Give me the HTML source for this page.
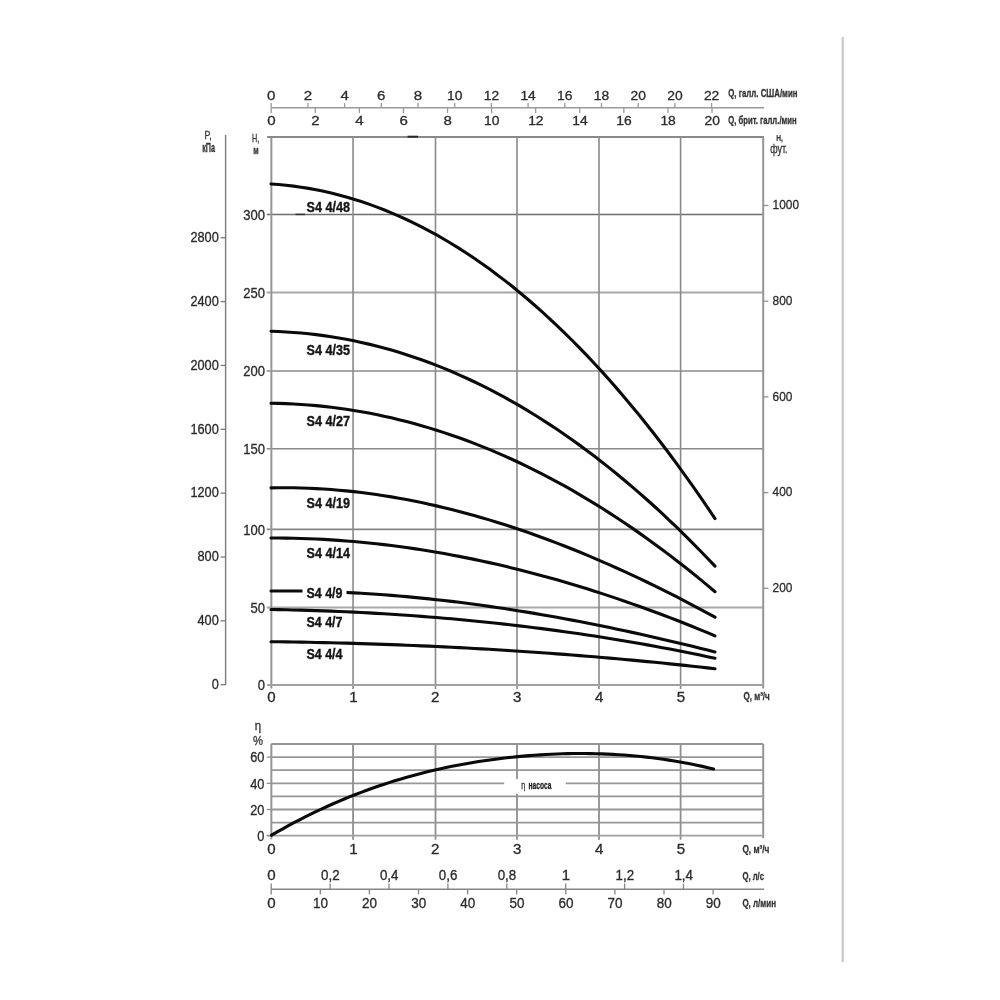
<!DOCTYPE html>
<html><head><meta charset="utf-8"><title>S4 4 pump curves</title>
<style>
html,body{margin:0;padding:0;background:#fff;width:1000px;height:1000px;overflow:hidden}
svg{display:block;will-change:transform}
text{font-family:"Liberation Sans", sans-serif}
</style></head>
<body>
<svg width="1000" height="1000" viewBox="0 0 1000 1000">
<rect x="0" y="0" width="1000" height="1000" fill="#fff"/>
<line x1="842.70" y1="37.00" x2="842.70" y2="962.00" stroke="#c8c8c8" stroke-width="2.2" />
<line x1="271.20" y1="107.80" x2="764.20" y2="107.80" stroke="#9a9a9a" stroke-width="1.6" />
<line x1="271.20" y1="103.00" x2="271.20" y2="107.80" stroke="#9a9a9a" stroke-width="1.3" />
<text x="271.20" y="99.70" font-size="13.41" text-anchor="middle" font-weight="normal" fill="#2a2a2a" stroke="#2a2a2a" stroke-width="0.3" textLength="8.40" lengthAdjust="spacingAndGlyphs">0</text>
<line x1="307.90" y1="103.00" x2="307.90" y2="107.80" stroke="#9a9a9a" stroke-width="1.3" />
<text x="307.90" y="99.70" font-size="13.41" text-anchor="middle" font-weight="normal" fill="#2a2a2a" stroke="#2a2a2a" stroke-width="0.3" textLength="8.40" lengthAdjust="spacingAndGlyphs">2</text>
<line x1="344.60" y1="103.00" x2="344.60" y2="107.80" stroke="#9a9a9a" stroke-width="1.3" />
<text x="344.60" y="99.70" font-size="13.41" text-anchor="middle" font-weight="normal" fill="#2a2a2a" stroke="#2a2a2a" stroke-width="0.3" textLength="8.40" lengthAdjust="spacingAndGlyphs">4</text>
<line x1="381.30" y1="103.00" x2="381.30" y2="107.80" stroke="#9a9a9a" stroke-width="1.3" />
<text x="381.30" y="99.70" font-size="13.41" text-anchor="middle" font-weight="normal" fill="#2a2a2a" stroke="#2a2a2a" stroke-width="0.3" textLength="8.40" lengthAdjust="spacingAndGlyphs">6</text>
<line x1="418.00" y1="103.00" x2="418.00" y2="107.80" stroke="#9a9a9a" stroke-width="1.3" />
<text x="418.00" y="99.70" font-size="13.41" text-anchor="middle" font-weight="normal" fill="#2a2a2a" stroke="#2a2a2a" stroke-width="0.3" textLength="8.40" lengthAdjust="spacingAndGlyphs">8</text>
<line x1="454.70" y1="103.00" x2="454.70" y2="107.80" stroke="#9a9a9a" stroke-width="1.3" />
<text x="454.70" y="99.70" font-size="13.41" text-anchor="middle" font-weight="normal" fill="#2a2a2a" stroke="#2a2a2a" stroke-width="0.3" textLength="15.40" lengthAdjust="spacingAndGlyphs">10</text>
<line x1="491.40" y1="103.00" x2="491.40" y2="107.80" stroke="#9a9a9a" stroke-width="1.3" />
<text x="491.40" y="99.70" font-size="13.41" text-anchor="middle" font-weight="normal" fill="#2a2a2a" stroke="#2a2a2a" stroke-width="0.3" textLength="15.40" lengthAdjust="spacingAndGlyphs">12</text>
<line x1="528.10" y1="103.00" x2="528.10" y2="107.80" stroke="#9a9a9a" stroke-width="1.3" />
<text x="528.10" y="99.70" font-size="13.41" text-anchor="middle" font-weight="normal" fill="#2a2a2a" stroke="#2a2a2a" stroke-width="0.3" textLength="15.40" lengthAdjust="spacingAndGlyphs">14</text>
<line x1="564.80" y1="103.00" x2="564.80" y2="107.80" stroke="#9a9a9a" stroke-width="1.3" />
<text x="564.80" y="99.70" font-size="13.41" text-anchor="middle" font-weight="normal" fill="#2a2a2a" stroke="#2a2a2a" stroke-width="0.3" textLength="15.40" lengthAdjust="spacingAndGlyphs">16</text>
<line x1="601.50" y1="103.00" x2="601.50" y2="107.80" stroke="#9a9a9a" stroke-width="1.3" />
<text x="601.50" y="99.70" font-size="13.41" text-anchor="middle" font-weight="normal" fill="#2a2a2a" stroke="#2a2a2a" stroke-width="0.3" textLength="15.40" lengthAdjust="spacingAndGlyphs">18</text>
<line x1="638.20" y1="103.00" x2="638.20" y2="107.80" stroke="#9a9a9a" stroke-width="1.3" />
<text x="638.20" y="99.70" font-size="13.41" text-anchor="middle" font-weight="normal" fill="#2a2a2a" stroke="#2a2a2a" stroke-width="0.3" textLength="15.40" lengthAdjust="spacingAndGlyphs">20</text>
<line x1="674.90" y1="103.00" x2="674.90" y2="107.80" stroke="#9a9a9a" stroke-width="1.3" />
<text x="674.90" y="99.70" font-size="13.41" text-anchor="middle" font-weight="normal" fill="#2a2a2a" stroke="#2a2a2a" stroke-width="0.3" textLength="15.40" lengthAdjust="spacingAndGlyphs">20</text>
<line x1="711.60" y1="103.00" x2="711.60" y2="107.80" stroke="#9a9a9a" stroke-width="1.3" />
<text x="711.60" y="99.70" font-size="13.41" text-anchor="middle" font-weight="normal" fill="#2a2a2a" stroke="#2a2a2a" stroke-width="0.3" textLength="15.40" lengthAdjust="spacingAndGlyphs">22</text>
<line x1="271.20" y1="107.80" x2="271.20" y2="113.00" stroke="#9a9a9a" stroke-width="1.3" />
<text x="271.40" y="124.90" font-size="13.69" text-anchor="middle" font-weight="normal" fill="#2a2a2a" stroke="#2a2a2a" stroke-width="0.3" textLength="8.40" lengthAdjust="spacingAndGlyphs">0</text>
<line x1="315.28" y1="107.80" x2="315.28" y2="113.00" stroke="#9a9a9a" stroke-width="1.3" />
<text x="315.48" y="124.90" font-size="13.69" text-anchor="middle" font-weight="normal" fill="#2a2a2a" stroke="#2a2a2a" stroke-width="0.3" textLength="8.40" lengthAdjust="spacingAndGlyphs">2</text>
<line x1="359.36" y1="107.80" x2="359.36" y2="113.00" stroke="#9a9a9a" stroke-width="1.3" />
<text x="359.56" y="124.90" font-size="13.69" text-anchor="middle" font-weight="normal" fill="#2a2a2a" stroke="#2a2a2a" stroke-width="0.3" textLength="8.40" lengthAdjust="spacingAndGlyphs">4</text>
<line x1="403.44" y1="107.80" x2="403.44" y2="113.00" stroke="#9a9a9a" stroke-width="1.3" />
<text x="403.64" y="124.90" font-size="13.69" text-anchor="middle" font-weight="normal" fill="#2a2a2a" stroke="#2a2a2a" stroke-width="0.3" textLength="8.40" lengthAdjust="spacingAndGlyphs">6</text>
<line x1="447.52" y1="107.80" x2="447.52" y2="113.00" stroke="#9a9a9a" stroke-width="1.3" />
<text x="447.72" y="124.90" font-size="13.69" text-anchor="middle" font-weight="normal" fill="#2a2a2a" stroke="#2a2a2a" stroke-width="0.3" textLength="8.40" lengthAdjust="spacingAndGlyphs">8</text>
<line x1="491.60" y1="107.80" x2="491.60" y2="113.00" stroke="#9a9a9a" stroke-width="1.3" />
<text x="491.80" y="124.90" font-size="13.69" text-anchor="middle" font-weight="normal" fill="#2a2a2a" stroke="#2a2a2a" stroke-width="0.3" textLength="15.40" lengthAdjust="spacingAndGlyphs">10</text>
<line x1="535.68" y1="107.80" x2="535.68" y2="113.00" stroke="#9a9a9a" stroke-width="1.3" />
<text x="535.88" y="124.90" font-size="13.69" text-anchor="middle" font-weight="normal" fill="#2a2a2a" stroke="#2a2a2a" stroke-width="0.3" textLength="15.40" lengthAdjust="spacingAndGlyphs">12</text>
<line x1="579.76" y1="107.80" x2="579.76" y2="113.00" stroke="#9a9a9a" stroke-width="1.3" />
<text x="579.96" y="124.90" font-size="13.69" text-anchor="middle" font-weight="normal" fill="#2a2a2a" stroke="#2a2a2a" stroke-width="0.3" textLength="15.40" lengthAdjust="spacingAndGlyphs">14</text>
<line x1="623.84" y1="107.80" x2="623.84" y2="113.00" stroke="#9a9a9a" stroke-width="1.3" />
<text x="624.04" y="124.90" font-size="13.69" text-anchor="middle" font-weight="normal" fill="#2a2a2a" stroke="#2a2a2a" stroke-width="0.3" textLength="15.40" lengthAdjust="spacingAndGlyphs">16</text>
<line x1="667.92" y1="107.80" x2="667.92" y2="113.00" stroke="#9a9a9a" stroke-width="1.3" />
<text x="668.12" y="124.90" font-size="13.69" text-anchor="middle" font-weight="normal" fill="#2a2a2a" stroke="#2a2a2a" stroke-width="0.3" textLength="15.40" lengthAdjust="spacingAndGlyphs">18</text>
<line x1="712.00" y1="107.80" x2="712.00" y2="113.00" stroke="#9a9a9a" stroke-width="1.3" />
<text x="712.20" y="124.90" font-size="13.69" text-anchor="middle" font-weight="normal" fill="#2a2a2a" stroke="#2a2a2a" stroke-width="0.3" textLength="15.40" lengthAdjust="spacingAndGlyphs">20</text>
<text x="728.20" y="97.10" font-size="10.06" text-anchor="start" font-weight="bold" fill="#333" stroke="#333" stroke-width="0.3" textLength="69.30" lengthAdjust="spacingAndGlyphs">Q, галл. США/мин</text>
<text x="728.20" y="123.60" font-size="10.06" text-anchor="start" font-weight="bold" fill="#333" stroke="#333" stroke-width="0.3" textLength="68.40" lengthAdjust="spacingAndGlyphs">Q, брит. галл./мин</text>
<line x1="266.70" y1="607.60" x2="763.20" y2="607.60" stroke="#a8a8a8" stroke-width="2.0" />
<line x1="266.70" y1="529.40" x2="763.20" y2="529.40" stroke="#868686" stroke-width="1.6" />
<line x1="266.70" y1="448.80" x2="763.20" y2="448.80" stroke="#8a8a8a" stroke-width="1.6" />
<line x1="266.70" y1="371.00" x2="763.20" y2="371.00" stroke="#a8a8a8" stroke-width="2.0" />
<line x1="266.70" y1="292.40" x2="763.20" y2="292.40" stroke="#a8a8a8" stroke-width="2.0" />
<line x1="266.70" y1="214.50" x2="763.20" y2="214.50" stroke="#6e6e6e" stroke-width="1.4" />
<line x1="353.05" y1="136.70" x2="353.05" y2="689.00" stroke="#8a8a8a" stroke-width="1.6" />
<line x1="435.50" y1="136.70" x2="435.50" y2="689.00" stroke="#8a8a8a" stroke-width="1.6" />
<line x1="517.00" y1="136.70" x2="517.00" y2="689.00" stroke="#8a8a8a" stroke-width="1.6" />
<line x1="599.00" y1="136.70" x2="599.00" y2="689.00" stroke="#8a8a8a" stroke-width="1.6" />
<line x1="680.60" y1="136.70" x2="680.60" y2="689.00" stroke="#8a8a8a" stroke-width="1.6" />
<line x1="271.35" y1="136.70" x2="271.35" y2="688.60" stroke="#959595" stroke-width="2.0" />
<line x1="763.20" y1="136.70" x2="763.20" y2="688.60" stroke="#959595" stroke-width="2.0" />
<line x1="267.20" y1="136.90" x2="764.00" y2="136.90" stroke="#8a8a8a" stroke-width="2.0" />
<line x1="267.20" y1="685.00" x2="763.20" y2="685.00" stroke="#a0a0a0" stroke-width="1.8" />
<line x1="407.50" y1="136.70" x2="418.00" y2="136.70" stroke="#2a2a2a" stroke-width="2.0" />
<text x="264.90" y="690.20" font-size="13.97" text-anchor="end" font-weight="normal" fill="#2a2a2a" stroke="#2a2a2a" stroke-width="0.3" textLength="7.25" lengthAdjust="spacingAndGlyphs">0</text>
<text x="264.90" y="612.80" font-size="13.97" text-anchor="end" font-weight="normal" fill="#2a2a2a" stroke="#2a2a2a" stroke-width="0.3" textLength="14.50" lengthAdjust="spacingAndGlyphs">50</text>
<text x="264.90" y="534.60" font-size="13.97" text-anchor="end" font-weight="normal" fill="#2a2a2a" stroke="#2a2a2a" stroke-width="0.3" textLength="21.75" lengthAdjust="spacingAndGlyphs">100</text>
<text x="264.90" y="454.00" font-size="13.97" text-anchor="end" font-weight="normal" fill="#2a2a2a" stroke="#2a2a2a" stroke-width="0.3" textLength="21.75" lengthAdjust="spacingAndGlyphs">150</text>
<text x="264.90" y="376.20" font-size="13.97" text-anchor="end" font-weight="normal" fill="#2a2a2a" stroke="#2a2a2a" stroke-width="0.3" textLength="21.75" lengthAdjust="spacingAndGlyphs">200</text>
<text x="264.90" y="297.60" font-size="13.97" text-anchor="end" font-weight="normal" fill="#2a2a2a" stroke="#2a2a2a" stroke-width="0.3" textLength="21.75" lengthAdjust="spacingAndGlyphs">250</text>
<text x="264.90" y="219.70" font-size="13.97" text-anchor="end" font-weight="normal" fill="#2a2a2a" stroke="#2a2a2a" stroke-width="0.3" textLength="21.75" lengthAdjust="spacingAndGlyphs">300</text>
<line x1="225.60" y1="135.00" x2="225.60" y2="684.90" stroke="#7a7a7a" stroke-width="1.4" />
<line x1="220.60" y1="684.70" x2="225.60" y2="684.70" stroke="#7a7a7a" stroke-width="1.3" />
<text x="218.80" y="689.00" font-size="13.97" text-anchor="end" font-weight="normal" fill="#2a2a2a" stroke="#2a2a2a" stroke-width="0.3" textLength="7.10" lengthAdjust="spacingAndGlyphs">0</text>
<line x1="220.60" y1="620.85" x2="225.60" y2="620.85" stroke="#7a7a7a" stroke-width="1.3" />
<text x="218.80" y="625.15" font-size="13.97" text-anchor="end" font-weight="normal" fill="#2a2a2a" stroke="#2a2a2a" stroke-width="0.3" textLength="21.30" lengthAdjust="spacingAndGlyphs">400</text>
<line x1="220.60" y1="557.00" x2="225.60" y2="557.00" stroke="#7a7a7a" stroke-width="1.3" />
<text x="218.80" y="561.30" font-size="13.97" text-anchor="end" font-weight="normal" fill="#2a2a2a" stroke="#2a2a2a" stroke-width="0.3" textLength="21.30" lengthAdjust="spacingAndGlyphs">800</text>
<line x1="220.60" y1="493.15" x2="225.60" y2="493.15" stroke="#7a7a7a" stroke-width="1.3" />
<text x="218.80" y="497.45" font-size="13.97" text-anchor="end" font-weight="normal" fill="#2a2a2a" stroke="#2a2a2a" stroke-width="0.3" textLength="28.40" lengthAdjust="spacingAndGlyphs">1200</text>
<line x1="220.60" y1="429.30" x2="225.60" y2="429.30" stroke="#7a7a7a" stroke-width="1.3" />
<text x="218.80" y="433.60" font-size="13.97" text-anchor="end" font-weight="normal" fill="#2a2a2a" stroke="#2a2a2a" stroke-width="0.3" textLength="28.40" lengthAdjust="spacingAndGlyphs">1600</text>
<line x1="220.60" y1="365.45" x2="225.60" y2="365.45" stroke="#7a7a7a" stroke-width="1.3" />
<text x="218.80" y="369.75" font-size="13.97" text-anchor="end" font-weight="normal" fill="#2a2a2a" stroke="#2a2a2a" stroke-width="0.3" textLength="28.40" lengthAdjust="spacingAndGlyphs">2000</text>
<line x1="220.60" y1="301.60" x2="225.60" y2="301.60" stroke="#7a7a7a" stroke-width="1.3" />
<text x="218.80" y="305.90" font-size="13.97" text-anchor="end" font-weight="normal" fill="#2a2a2a" stroke="#2a2a2a" stroke-width="0.3" textLength="28.40" lengthAdjust="spacingAndGlyphs">2400</text>
<line x1="220.60" y1="237.75" x2="225.60" y2="237.75" stroke="#7a7a7a" stroke-width="1.3" />
<text x="218.80" y="242.05" font-size="13.97" text-anchor="end" font-weight="normal" fill="#2a2a2a" stroke="#2a2a2a" stroke-width="0.3" textLength="28.40" lengthAdjust="spacingAndGlyphs">2800</text>
<line x1="763.20" y1="588.30" x2="768.40" y2="588.30" stroke="#8f8f8f" stroke-width="1.3" />
<text x="772.60" y="592.00" font-size="13.69" text-anchor="start" font-weight="normal" fill="#2a2a2a" stroke="#2a2a2a" stroke-width="0.3" textLength="19.80" lengthAdjust="spacingAndGlyphs">200</text>
<line x1="763.20" y1="492.60" x2="768.40" y2="492.60" stroke="#8f8f8f" stroke-width="1.3" />
<text x="772.60" y="496.30" font-size="13.69" text-anchor="start" font-weight="normal" fill="#2a2a2a" stroke="#2a2a2a" stroke-width="0.3" textLength="19.80" lengthAdjust="spacingAndGlyphs">400</text>
<line x1="763.20" y1="396.90" x2="768.40" y2="396.90" stroke="#8f8f8f" stroke-width="1.3" />
<text x="772.60" y="400.60" font-size="13.69" text-anchor="start" font-weight="normal" fill="#2a2a2a" stroke="#2a2a2a" stroke-width="0.3" textLength="19.80" lengthAdjust="spacingAndGlyphs">600</text>
<line x1="763.20" y1="301.20" x2="768.40" y2="301.20" stroke="#8f8f8f" stroke-width="1.3" />
<text x="772.60" y="304.90" font-size="13.69" text-anchor="start" font-weight="normal" fill="#2a2a2a" stroke="#2a2a2a" stroke-width="0.3" textLength="19.80" lengthAdjust="spacingAndGlyphs">800</text>
<line x1="763.20" y1="205.50" x2="768.40" y2="205.50" stroke="#8f8f8f" stroke-width="1.3" />
<text x="772.60" y="209.20" font-size="13.69" text-anchor="start" font-weight="normal" fill="#2a2a2a" stroke="#2a2a2a" stroke-width="0.3" textLength="26.40" lengthAdjust="spacingAndGlyphs">1000</text>
<text x="271.50" y="701.60" font-size="13.97" text-anchor="middle" font-weight="normal" fill="#2a2a2a" stroke="#2a2a2a" stroke-width="0.3" textLength="8.40" lengthAdjust="spacingAndGlyphs">0</text>
<text x="353.40" y="701.60" font-size="13.97" text-anchor="middle" font-weight="normal" fill="#2a2a2a" stroke="#2a2a2a" stroke-width="0.3" textLength="8.40" lengthAdjust="spacingAndGlyphs">1</text>
<text x="435.30" y="701.60" font-size="13.97" text-anchor="middle" font-weight="normal" fill="#2a2a2a" stroke="#2a2a2a" stroke-width="0.3" textLength="8.40" lengthAdjust="spacingAndGlyphs">2</text>
<text x="517.20" y="701.60" font-size="13.97" text-anchor="middle" font-weight="normal" fill="#2a2a2a" stroke="#2a2a2a" stroke-width="0.3" textLength="8.40" lengthAdjust="spacingAndGlyphs">3</text>
<text x="599.10" y="701.60" font-size="13.97" text-anchor="middle" font-weight="normal" fill="#2a2a2a" stroke="#2a2a2a" stroke-width="0.3" textLength="8.40" lengthAdjust="spacingAndGlyphs">4</text>
<text x="681.00" y="701.60" font-size="13.97" text-anchor="middle" font-weight="normal" fill="#2a2a2a" stroke="#2a2a2a" stroke-width="0.3" textLength="8.40" lengthAdjust="spacingAndGlyphs">5</text>
<text x="743.40" y="699.60" font-size="11.45" text-anchor="start" font-weight="bold" fill="#333" stroke="#333" stroke-width="0.3" textLength="26.40" lengthAdjust="spacingAndGlyphs">Q, м³/ч</text>
<text x="204.60" y="139.20" font-size="10.89" text-anchor="start" font-weight="normal" fill="#333" stroke="#333" stroke-width="0.3" textLength="7.20" lengthAdjust="spacingAndGlyphs">P,</text>
<text x="202.20" y="152.40" font-size="12.45" text-anchor="start" font-weight="bold" fill="#333" stroke="#333" stroke-width="0.3" textLength="12.80" lengthAdjust="spacingAndGlyphs">кПа</text>
<text x="252.00" y="141.60" font-size="10.06" text-anchor="start" font-weight="normal" fill="#333" stroke="#333" stroke-width="0.3" textLength="7.20" lengthAdjust="spacingAndGlyphs">H,</text>
<text x="253.20" y="153.60" font-size="11.32" text-anchor="start" font-weight="bold" fill="#333" stroke="#333" stroke-width="0.3" textLength="5.40" lengthAdjust="spacingAndGlyphs">м</text>
<text x="776.20" y="141.00" font-size="9.22" text-anchor="start" font-weight="bold" fill="#333" stroke="#333" stroke-width="0.2" textLength="6.60" lengthAdjust="spacingAndGlyphs">H,</text>
<text x="770.20" y="153.45" font-size="12.50" text-anchor="start" font-weight="normal" fill="#333" stroke="#333" stroke-width="0.3" textLength="17.40" lengthAdjust="spacingAndGlyphs">фут.</text>
<path d="M271.00,183.96 L278.53,184.52 L286.05,185.25 L293.58,186.13 L301.10,187.18 L308.63,188.40 L316.15,189.78 L323.68,191.32 L331.20,193.04 L338.73,194.92 L346.25,196.97 L353.78,199.18 L361.31,201.57 L368.83,204.13 L376.36,206.86 L383.88,209.76 L391.41,212.83 L398.93,216.08 L406.46,219.50 L413.98,223.10 L421.51,226.87 L429.03,230.81 L436.56,234.94 L444.08,239.24 L451.61,243.72 L459.14,248.38 L466.66,253.22 L474.19,258.24 L481.71,263.44 L489.24,268.82 L496.76,274.39 L504.29,280.14 L511.81,286.07 L519.34,292.19 L526.86,298.50 L534.39,304.99 L541.92,311.66 L549.44,318.53 L556.97,325.58 L564.49,332.83 L572.02,340.26 L579.54,347.88 L587.07,355.70 L594.59,363.71 L602.12,371.91 L609.64,380.30 L617.17,388.89 L624.69,397.67 L632.22,406.65 L639.75,415.83 L647.27,425.20 L654.80,434.77 L662.32,444.54 L669.85,454.51 L677.37,464.67 L684.90,475.04 L692.42,485.61 L699.95,496.39 L707.47,507.36 L715.00,518.54" fill="none" stroke="#0a0a0a" stroke-width="3.1" stroke-linecap="round" stroke-linejoin="round"/>
<path d="M271.00,331.32 L278.53,331.57 L286.05,331.94 L293.58,332.43 L301.10,333.04 L308.63,333.78 L316.15,334.64 L323.68,335.62 L331.20,336.73 L338.73,337.96 L346.25,339.31 L353.78,340.79 L361.31,342.40 L368.83,344.13 L376.36,345.98 L383.88,347.96 L391.41,350.07 L398.93,352.31 L406.46,354.67 L413.98,357.16 L421.51,359.78 L429.03,362.53 L436.56,365.41 L444.08,368.42 L451.61,371.55 L459.14,374.82 L466.66,378.22 L474.19,381.75 L481.71,385.41 L489.24,389.20 L496.76,393.13 L504.29,397.18 L511.81,401.37 L519.34,405.70 L526.86,410.15 L534.39,414.74 L541.92,419.47 L549.44,424.33 L556.97,429.33 L564.49,434.46 L572.02,439.72 L579.54,445.13 L587.07,450.67 L594.59,456.35 L602.12,462.16 L609.64,468.12 L617.17,474.21 L624.69,480.44 L632.22,486.81 L639.75,493.32 L647.27,499.97 L654.80,506.76 L662.32,513.69 L669.85,520.76 L677.37,527.97 L684.90,535.33 L692.42,542.83 L699.95,550.47 L707.47,558.25 L715.00,566.18" fill="none" stroke="#0a0a0a" stroke-width="3.1" stroke-linecap="round" stroke-linejoin="round"/>
<path d="M271.00,403.28 L278.53,403.42 L286.05,403.66 L293.58,404.00 L301.10,404.44 L308.63,404.99 L316.15,405.64 L323.68,406.39 L331.20,407.25 L338.73,408.21 L346.25,409.28 L353.78,410.45 L361.31,411.72 L368.83,413.10 L376.36,414.58 L383.88,416.16 L391.41,417.85 L398.93,419.65 L406.46,421.55 L413.98,423.55 L421.51,425.66 L429.03,427.88 L436.56,430.20 L444.08,432.63 L451.61,435.16 L459.14,437.80 L466.66,440.55 L474.19,443.40 L481.71,446.36 L489.24,449.42 L496.76,452.60 L504.29,455.88 L511.81,459.26 L519.34,462.75 L526.86,466.36 L534.39,470.06 L541.92,473.88 L549.44,477.80 L556.97,481.84 L564.49,485.98 L572.02,490.22 L579.54,494.58 L587.07,499.05 L594.59,503.62 L602.12,508.30 L609.64,513.10 L617.17,518.00 L624.69,523.01 L632.22,528.13 L639.75,533.36 L647.27,538.70 L654.80,544.15 L662.32,549.71 L669.85,555.38 L677.37,561.16 L684.90,567.05 L692.42,573.06 L699.95,579.17 L707.47,585.39 L715.00,591.73" fill="none" stroke="#0a0a0a" stroke-width="3.1" stroke-linecap="round" stroke-linejoin="round"/>
<path d="M271.00,487.84 L278.53,487.73 L286.05,487.72 L293.58,487.80 L301.10,487.97 L308.63,488.23 L316.15,488.58 L323.68,489.02 L331.20,489.55 L338.73,490.17 L346.25,490.87 L353.78,491.66 L361.31,492.54 L368.83,493.50 L376.36,494.55 L383.88,495.68 L391.41,496.90 L398.93,498.19 L406.46,499.57 L413.98,501.03 L421.51,502.56 L429.03,504.18 L436.56,505.88 L444.08,507.65 L451.61,509.50 L459.14,511.43 L466.66,513.43 L474.19,515.51 L481.71,517.66 L489.24,519.88 L496.76,522.18 L504.29,524.55 L511.81,526.99 L519.34,529.50 L526.86,532.08 L534.39,534.73 L541.92,537.45 L549.44,540.24 L556.97,543.09 L564.49,546.01 L572.02,548.99 L579.54,552.04 L587.07,555.16 L594.59,558.33 L602.12,561.57 L609.64,564.87 L617.17,568.23 L624.69,571.65 L632.22,575.14 L639.75,578.68 L647.27,582.27 L654.80,585.93 L662.32,589.64 L669.85,593.41 L677.37,597.23 L684.90,601.11 L692.42,605.04 L699.95,609.03 L707.47,613.06 L715.00,617.15" fill="none" stroke="#0a0a0a" stroke-width="3.1" stroke-linecap="round" stroke-linejoin="round"/>
<path d="M271.00,538.03 L278.53,538.05 L286.05,538.12 L293.58,538.26 L301.10,538.46 L308.63,538.72 L316.15,539.04 L323.68,539.42 L331.20,539.86 L338.73,540.37 L346.25,540.93 L353.78,541.55 L361.31,542.24 L368.83,542.98 L376.36,543.78 L383.88,544.64 L391.41,545.55 L398.93,546.53 L406.46,547.56 L413.98,548.65 L421.51,549.80 L429.03,551.00 L436.56,552.26 L444.08,553.58 L451.61,554.95 L459.14,556.37 L466.66,557.86 L474.19,559.39 L481.71,560.99 L489.24,562.63 L496.76,564.33 L504.29,566.09 L511.81,567.89 L519.34,569.75 L526.86,571.67 L534.39,573.63 L541.92,575.65 L549.44,577.72 L556.97,579.84 L564.49,582.02 L572.02,584.24 L579.54,586.52 L587.07,588.84 L594.59,591.22 L602.12,593.64 L609.64,596.12 L617.17,598.64 L624.69,601.21 L632.22,603.84 L639.75,606.51 L647.27,609.23 L654.80,611.99 L662.32,614.81 L669.85,617.67 L677.37,620.57 L684.90,623.53 L692.42,626.53 L699.95,629.58 L707.47,632.67 L715.00,635.81" fill="none" stroke="#0a0a0a" stroke-width="3.1" stroke-linecap="round" stroke-linejoin="round"/>
<path d="M271.00,590.98 L278.53,590.93 L286.05,590.93 L293.58,590.97 L301.10,591.05 L308.63,591.18 L316.15,591.35 L323.68,591.56 L331.20,591.82 L338.73,592.12 L346.25,592.46 L353.78,592.85 L361.31,593.27 L368.83,593.73 L376.36,594.24 L383.88,594.78 L391.41,595.37 L398.93,595.99 L406.46,596.65 L413.98,597.35 L421.51,598.09 L429.03,598.86 L436.56,599.67 L444.08,600.52 L451.61,601.40 L459.14,602.32 L466.66,603.28 L474.19,604.27 L481.71,605.29 L489.24,606.35 L496.76,607.44 L504.29,608.57 L511.81,609.72 L519.34,610.91 L526.86,612.14 L534.39,613.39 L541.92,614.67 L549.44,615.99 L556.97,617.34 L564.49,618.71 L572.02,620.12 L579.54,621.55 L587.07,623.02 L594.59,624.51 L602.12,626.03 L609.64,627.57 L617.17,629.15 L624.69,630.75 L632.22,632.38 L639.75,634.03 L647.27,635.71 L654.80,637.41 L662.32,639.14 L669.85,640.89 L677.37,642.67 L684.90,644.47 L692.42,646.29 L699.95,648.14 L707.47,650.00 L715.00,651.89" fill="none" stroke="#0a0a0a" stroke-width="3.1" stroke-linecap="round" stroke-linejoin="round"/>
<path d="M271.00,609.48 L278.53,609.61 L286.05,609.77 L293.58,609.95 L301.10,610.15 L308.63,610.37 L316.15,610.61 L323.68,610.88 L331.20,611.16 L338.73,611.47 L346.25,611.80 L353.78,612.15 L361.31,612.53 L368.83,612.92 L376.36,613.34 L383.88,613.78 L391.41,614.25 L398.93,614.74 L406.46,615.25 L413.98,615.79 L421.51,616.35 L429.03,616.93 L436.56,617.53 L444.08,618.17 L451.61,618.82 L459.14,619.50 L466.66,620.20 L474.19,620.93 L481.71,621.69 L489.24,622.47 L496.76,623.27 L504.29,624.10 L511.81,624.96 L519.34,625.84 L526.86,626.74 L534.39,627.68 L541.92,628.63 L549.44,629.62 L556.97,630.63 L564.49,631.67 L572.02,632.73 L579.54,633.83 L587.07,634.95 L594.59,636.09 L602.12,637.27 L609.64,638.47 L617.17,639.70 L624.69,640.95 L632.22,642.24 L639.75,643.55 L647.27,644.89 L654.80,646.26 L662.32,647.66 L669.85,649.09 L677.37,650.54 L684.90,652.03 L692.42,653.55 L699.95,655.09 L707.47,656.66 L715.00,658.27" fill="none" stroke="#0a0a0a" stroke-width="3.1" stroke-linecap="round" stroke-linejoin="round"/>
<path d="M271.00,641.71 L278.53,641.80 L286.05,641.91 L293.58,642.02 L301.10,642.15 L308.63,642.29 L316.15,642.44 L323.68,642.61 L331.20,642.78 L338.73,642.97 L346.25,643.17 L353.78,643.38 L361.31,643.61 L368.83,643.84 L376.36,644.09 L383.88,644.35 L391.41,644.62 L398.93,644.91 L406.46,645.20 L413.98,645.51 L421.51,645.84 L429.03,646.17 L436.56,646.52 L444.08,646.88 L451.61,647.25 L459.14,647.64 L466.66,648.03 L474.19,648.45 L481.71,648.87 L489.24,649.31 L496.76,649.76 L504.29,650.22 L511.81,650.70 L519.34,651.19 L526.86,651.69 L534.39,652.21 L541.92,652.74 L549.44,653.28 L556.97,653.84 L564.49,654.41 L572.02,654.99 L579.54,655.59 L587.07,656.20 L594.59,656.82 L602.12,657.46 L609.64,658.11 L617.17,658.78 L624.69,659.46 L632.22,660.16 L639.75,660.86 L647.27,661.59 L654.80,662.32 L662.32,663.07 L669.85,663.84 L677.37,664.62 L684.90,665.41 L692.42,666.22 L699.95,667.05 L707.47,667.88 L715.00,668.74" fill="none" stroke="#0a0a0a" stroke-width="3.1" stroke-linecap="round" stroke-linejoin="round"/>
<rect x="302.5" y="586" width="44" height="13" fill="#fff"/>
<line x1="295.50" y1="214.40" x2="305.00" y2="214.40" stroke="#333" stroke-width="1.5" />
<text x="306.50" y="212.40" font-size="14.25" text-anchor="start" font-weight="bold" fill="#141414" stroke="#141414" stroke-width="0.35" textLength="43.50" lengthAdjust="spacingAndGlyphs">S4 4/48</text>
<text x="306.50" y="355.40" font-size="14.25" text-anchor="start" font-weight="bold" fill="#141414" stroke="#141414" stroke-width="0.35" textLength="43.50" lengthAdjust="spacingAndGlyphs">S4 4/35</text>
<text x="306.50" y="425.90" font-size="14.25" text-anchor="start" font-weight="bold" fill="#141414" stroke="#141414" stroke-width="0.35" textLength="43.50" lengthAdjust="spacingAndGlyphs">S4 4/27</text>
<text x="306.50" y="508.10" font-size="14.25" text-anchor="start" font-weight="bold" fill="#141414" stroke="#141414" stroke-width="0.35" textLength="43.50" lengthAdjust="spacingAndGlyphs">S4 4/19</text>
<text x="306.50" y="557.80" font-size="14.25" text-anchor="start" font-weight="bold" fill="#141414" stroke="#141414" stroke-width="0.35" textLength="43.50" lengthAdjust="spacingAndGlyphs">S4 4/14</text>
<text x="306.50" y="597.80" font-size="14.25" text-anchor="start" font-weight="bold" fill="#141414" stroke="#141414" stroke-width="0.35" textLength="36.00" lengthAdjust="spacingAndGlyphs">S4 4/9</text>
<text x="306.50" y="627.10" font-size="14.25" text-anchor="start" font-weight="bold" fill="#141414" stroke="#141414" stroke-width="0.35" textLength="36.00" lengthAdjust="spacingAndGlyphs">S4 4/7</text>
<text x="306.50" y="658.70" font-size="14.25" text-anchor="start" font-weight="bold" fill="#141414" stroke="#141414" stroke-width="0.35" textLength="36.00" lengthAdjust="spacingAndGlyphs">S4 4/4</text>
<line x1="271.20" y1="822.60" x2="763.20" y2="822.60" stroke="#979797" stroke-width="1.8" />
<line x1="271.20" y1="809.50" x2="763.20" y2="809.50" stroke="#979797" stroke-width="1.8" />
<line x1="271.20" y1="796.40" x2="763.20" y2="796.40" stroke="#979797" stroke-width="1.8" />
<line x1="271.20" y1="783.30" x2="763.20" y2="783.30" stroke="#979797" stroke-width="1.8" />
<line x1="271.20" y1="770.20" x2="763.20" y2="770.20" stroke="#979797" stroke-width="1.8" />
<line x1="271.20" y1="757.10" x2="763.20" y2="757.10" stroke="#979797" stroke-width="1.8" />
<line x1="353.05" y1="744.00" x2="353.05" y2="839.70" stroke="#8f8f8f" stroke-width="1.8" />
<line x1="435.50" y1="744.00" x2="435.50" y2="839.70" stroke="#8f8f8f" stroke-width="1.8" />
<line x1="517.00" y1="744.00" x2="517.00" y2="839.70" stroke="#8f8f8f" stroke-width="1.8" />
<line x1="599.00" y1="744.00" x2="599.00" y2="839.70" stroke="#8f8f8f" stroke-width="1.8" />
<line x1="680.60" y1="744.00" x2="680.60" y2="839.70" stroke="#8f8f8f" stroke-width="1.8" />
<line x1="271.35" y1="744.00" x2="271.35" y2="839.30" stroke="#959595" stroke-width="2.0" />
<line x1="763.20" y1="744.00" x2="763.20" y2="838.20" stroke="#959595" stroke-width="2.0" />
<line x1="271.20" y1="744.00" x2="763.20" y2="744.00" stroke="#959595" stroke-width="2.0" />
<line x1="266.70" y1="835.70" x2="763.20" y2="835.70" stroke="#a0a0a0" stroke-width="1.8" />
<line x1="266.70" y1="835.70" x2="271.20" y2="835.70" stroke="#8f8f8f" stroke-width="1.3" />
<text x="264.40" y="841.00" font-size="13.97" text-anchor="end" font-weight="normal" fill="#2a2a2a" stroke="#2a2a2a" stroke-width="0.3" textLength="7.10" lengthAdjust="spacingAndGlyphs">0</text>
<line x1="266.70" y1="809.50" x2="271.20" y2="809.50" stroke="#8f8f8f" stroke-width="1.3" />
<text x="264.40" y="814.80" font-size="13.97" text-anchor="end" font-weight="normal" fill="#2a2a2a" stroke="#2a2a2a" stroke-width="0.3" textLength="14.20" lengthAdjust="spacingAndGlyphs">20</text>
<line x1="266.70" y1="783.30" x2="271.20" y2="783.30" stroke="#8f8f8f" stroke-width="1.3" />
<text x="264.40" y="788.60" font-size="13.97" text-anchor="end" font-weight="normal" fill="#2a2a2a" stroke="#2a2a2a" stroke-width="0.3" textLength="14.20" lengthAdjust="spacingAndGlyphs">40</text>
<line x1="266.70" y1="757.10" x2="271.20" y2="757.10" stroke="#8f8f8f" stroke-width="1.3" />
<text x="264.40" y="762.40" font-size="13.97" text-anchor="end" font-weight="normal" fill="#2a2a2a" stroke="#2a2a2a" stroke-width="0.3" textLength="14.20" lengthAdjust="spacingAndGlyphs">60</text>
<rect x="504.2" y="779" width="61.6" height="14.8" fill="#fff"/>
<text x="521.20" y="789.00" font-size="10.57" text-anchor="start" font-weight="normal" fill="#333" stroke="#333" stroke-width="0.3" textLength="4.00" lengthAdjust="spacingAndGlyphs">η</text>
<text x="528.60" y="789.00" font-size="10.57" text-anchor="start" font-weight="bold" fill="#222" stroke="#222" stroke-width="0.3" textLength="22.80" lengthAdjust="spacingAndGlyphs">насоса</text>
<text x="254.80" y="730.40" font-size="12.00" text-anchor="start" font-weight="normal" fill="#333" stroke="#333" stroke-width="0.3" textLength="6.40" lengthAdjust="spacingAndGlyphs">η</text>
<text x="253.00" y="745.00" font-size="12.57" text-anchor="start" font-weight="normal" fill="#333" stroke="#333" stroke-width="0.3" textLength="10.00" lengthAdjust="spacingAndGlyphs">%</text>
<text x="271.50" y="854.10" font-size="13.97" text-anchor="middle" font-weight="normal" fill="#2a2a2a" stroke="#2a2a2a" stroke-width="0.3" textLength="8.40" lengthAdjust="spacingAndGlyphs">0</text>
<text x="353.40" y="854.10" font-size="13.97" text-anchor="middle" font-weight="normal" fill="#2a2a2a" stroke="#2a2a2a" stroke-width="0.3" textLength="8.40" lengthAdjust="spacingAndGlyphs">1</text>
<text x="435.30" y="854.10" font-size="13.97" text-anchor="middle" font-weight="normal" fill="#2a2a2a" stroke="#2a2a2a" stroke-width="0.3" textLength="8.40" lengthAdjust="spacingAndGlyphs">2</text>
<text x="517.20" y="854.10" font-size="13.97" text-anchor="middle" font-weight="normal" fill="#2a2a2a" stroke="#2a2a2a" stroke-width="0.3" textLength="8.40" lengthAdjust="spacingAndGlyphs">3</text>
<text x="599.10" y="854.10" font-size="13.97" text-anchor="middle" font-weight="normal" fill="#2a2a2a" stroke="#2a2a2a" stroke-width="0.3" textLength="8.40" lengthAdjust="spacingAndGlyphs">4</text>
<text x="681.00" y="854.10" font-size="13.97" text-anchor="middle" font-weight="normal" fill="#2a2a2a" stroke="#2a2a2a" stroke-width="0.3" textLength="8.40" lengthAdjust="spacingAndGlyphs">5</text>
<text x="742.40" y="852.50" font-size="11.45" text-anchor="start" font-weight="bold" fill="#333" stroke="#333" stroke-width="0.3" textLength="27.00" lengthAdjust="spacingAndGlyphs">Q, м³/ч</text>
<path d="M271.60,835.19 L277.19,831.95 L282.79,828.79 L288.38,825.70 L293.98,822.69 L299.57,819.76 L305.17,816.91 L310.76,814.12 L316.36,811.42 L321.95,808.78 L327.55,806.22 L333.14,803.73 L338.74,801.31 L344.33,798.96 L349.93,796.68 L355.52,794.47 L361.12,792.33 L366.71,790.25 L372.31,788.24 L377.90,786.29 L383.50,784.41 L389.09,782.60 L394.69,780.84 L400.28,779.15 L405.88,777.52 L411.47,775.95 L417.07,774.44 L422.66,772.99 L428.26,771.60 L433.85,770.27 L439.45,768.99 L445.04,767.77 L450.64,766.60 L456.23,765.49 L461.83,764.43 L467.42,763.43 L473.02,762.47 L478.61,761.57 L484.21,760.72 L489.80,759.92 L495.40,759.17 L500.99,758.46 L506.59,757.80 L512.18,757.19 L517.78,756.63 L523.37,756.11 L528.97,755.64 L534.56,755.21 L540.16,754.83 L545.75,754.49 L551.35,754.21 L556.94,753.97 L562.54,753.78 L568.13,753.64 L573.73,753.55 L579.32,753.51 L584.92,753.52 L590.51,753.58 L596.11,753.70 L601.70,753.86 L607.30,754.08 L612.89,754.36 L618.49,754.68 L624.08,755.06 L629.68,755.50 L635.27,755.99 L640.87,756.54 L646.46,757.14 L652.06,757.80 L657.65,758.52 L663.25,759.29 L668.84,760.13 L674.44,761.02 L680.03,761.97 L685.63,762.98 L691.22,764.06 L696.82,765.19 L702.41,766.39 L708.01,767.64 L713.60,768.96" fill="none" stroke="#0a0a0a" stroke-width="3.1" stroke-linecap="round"/>
<line x1="271.20" y1="889.20" x2="764.20" y2="889.20" stroke="#858585" stroke-width="1.6" />
<line x1="271.20" y1="883.60" x2="271.20" y2="889.20" stroke="#858585" stroke-width="1.3" />
<text x="271.40" y="880.45" font-size="13.83" text-anchor="middle" font-weight="normal" fill="#2a2a2a" stroke="#2a2a2a" stroke-width="0.3" textLength="8.40" lengthAdjust="spacingAndGlyphs">0</text>
<line x1="330.10" y1="883.60" x2="330.10" y2="889.20" stroke="#858585" stroke-width="1.3" />
<text x="330.30" y="880.45" font-size="13.83" text-anchor="middle" font-weight="normal" fill="#2a2a2a" stroke="#2a2a2a" stroke-width="0.3" textLength="18.60" lengthAdjust="spacingAndGlyphs">0,2</text>
<line x1="389.00" y1="883.60" x2="389.00" y2="889.20" stroke="#858585" stroke-width="1.3" />
<text x="389.20" y="880.45" font-size="13.83" text-anchor="middle" font-weight="normal" fill="#2a2a2a" stroke="#2a2a2a" stroke-width="0.3" textLength="18.60" lengthAdjust="spacingAndGlyphs">0,4</text>
<line x1="447.90" y1="883.60" x2="447.90" y2="889.20" stroke="#858585" stroke-width="1.3" />
<text x="448.10" y="880.45" font-size="13.83" text-anchor="middle" font-weight="normal" fill="#2a2a2a" stroke="#2a2a2a" stroke-width="0.3" textLength="18.60" lengthAdjust="spacingAndGlyphs">0,6</text>
<line x1="506.80" y1="883.60" x2="506.80" y2="889.20" stroke="#858585" stroke-width="1.3" />
<text x="507.00" y="880.45" font-size="13.83" text-anchor="middle" font-weight="normal" fill="#2a2a2a" stroke="#2a2a2a" stroke-width="0.3" textLength="18.60" lengthAdjust="spacingAndGlyphs">0,8</text>
<line x1="565.70" y1="883.60" x2="565.70" y2="889.20" stroke="#858585" stroke-width="1.3" />
<text x="565.90" y="880.45" font-size="13.83" text-anchor="middle" font-weight="normal" fill="#2a2a2a" stroke="#2a2a2a" stroke-width="0.3" textLength="8.40" lengthAdjust="spacingAndGlyphs">1</text>
<line x1="624.60" y1="883.60" x2="624.60" y2="889.20" stroke="#858585" stroke-width="1.3" />
<text x="624.80" y="880.45" font-size="13.83" text-anchor="middle" font-weight="normal" fill="#2a2a2a" stroke="#2a2a2a" stroke-width="0.3" textLength="18.60" lengthAdjust="spacingAndGlyphs">1,2</text>
<line x1="683.50" y1="883.60" x2="683.50" y2="889.20" stroke="#858585" stroke-width="1.3" />
<text x="683.70" y="880.45" font-size="13.83" text-anchor="middle" font-weight="normal" fill="#2a2a2a" stroke="#2a2a2a" stroke-width="0.3" textLength="18.60" lengthAdjust="spacingAndGlyphs">1,4</text>
<line x1="271.20" y1="889.20" x2="271.20" y2="894.40" stroke="#858585" stroke-width="1.3" />
<text x="271.40" y="908.00" font-size="13.97" text-anchor="middle" font-weight="normal" fill="#2a2a2a" stroke="#2a2a2a" stroke-width="0.3" textLength="8.40" lengthAdjust="spacingAndGlyphs">0</text>
<line x1="320.30" y1="889.20" x2="320.30" y2="894.40" stroke="#858585" stroke-width="1.3" />
<text x="320.50" y="908.00" font-size="13.97" text-anchor="middle" font-weight="normal" fill="#2a2a2a" stroke="#2a2a2a" stroke-width="0.3" textLength="15.00" lengthAdjust="spacingAndGlyphs">10</text>
<line x1="369.40" y1="889.20" x2="369.40" y2="894.40" stroke="#858585" stroke-width="1.3" />
<text x="369.60" y="908.00" font-size="13.97" text-anchor="middle" font-weight="normal" fill="#2a2a2a" stroke="#2a2a2a" stroke-width="0.3" textLength="15.00" lengthAdjust="spacingAndGlyphs">20</text>
<line x1="418.50" y1="889.20" x2="418.50" y2="894.40" stroke="#858585" stroke-width="1.3" />
<text x="418.70" y="908.00" font-size="13.97" text-anchor="middle" font-weight="normal" fill="#2a2a2a" stroke="#2a2a2a" stroke-width="0.3" textLength="15.00" lengthAdjust="spacingAndGlyphs">30</text>
<line x1="467.60" y1="889.20" x2="467.60" y2="894.40" stroke="#858585" stroke-width="1.3" />
<text x="467.80" y="908.00" font-size="13.97" text-anchor="middle" font-weight="normal" fill="#2a2a2a" stroke="#2a2a2a" stroke-width="0.3" textLength="15.00" lengthAdjust="spacingAndGlyphs">40</text>
<line x1="516.70" y1="889.20" x2="516.70" y2="894.40" stroke="#858585" stroke-width="1.3" />
<text x="516.90" y="908.00" font-size="13.97" text-anchor="middle" font-weight="normal" fill="#2a2a2a" stroke="#2a2a2a" stroke-width="0.3" textLength="15.00" lengthAdjust="spacingAndGlyphs">50</text>
<line x1="565.80" y1="889.20" x2="565.80" y2="894.40" stroke="#858585" stroke-width="1.3" />
<text x="566.00" y="908.00" font-size="13.97" text-anchor="middle" font-weight="normal" fill="#2a2a2a" stroke="#2a2a2a" stroke-width="0.3" textLength="15.00" lengthAdjust="spacingAndGlyphs">60</text>
<line x1="614.90" y1="889.20" x2="614.90" y2="894.40" stroke="#858585" stroke-width="1.3" />
<text x="615.10" y="908.00" font-size="13.97" text-anchor="middle" font-weight="normal" fill="#2a2a2a" stroke="#2a2a2a" stroke-width="0.3" textLength="15.00" lengthAdjust="spacingAndGlyphs">70</text>
<line x1="664.00" y1="889.20" x2="664.00" y2="894.40" stroke="#858585" stroke-width="1.3" />
<text x="664.20" y="908.00" font-size="13.97" text-anchor="middle" font-weight="normal" fill="#2a2a2a" stroke="#2a2a2a" stroke-width="0.3" textLength="15.00" lengthAdjust="spacingAndGlyphs">80</text>
<line x1="713.10" y1="889.20" x2="713.10" y2="894.40" stroke="#858585" stroke-width="1.3" />
<text x="713.30" y="908.00" font-size="13.97" text-anchor="middle" font-weight="normal" fill="#2a2a2a" stroke="#2a2a2a" stroke-width="0.3" textLength="15.00" lengthAdjust="spacingAndGlyphs">90</text>
<text x="742.40" y="879.80" font-size="10.61" text-anchor="start" font-weight="bold" fill="#333" stroke="#333" stroke-width="0.3" textLength="21.60" lengthAdjust="spacingAndGlyphs">Q, л/с</text>
<text x="742.40" y="906.80" font-size="10.61" text-anchor="start" font-weight="bold" fill="#333" stroke="#333" stroke-width="0.3" textLength="33.60" lengthAdjust="spacingAndGlyphs">Q, л/мин</text>
</svg>
</body></html>
